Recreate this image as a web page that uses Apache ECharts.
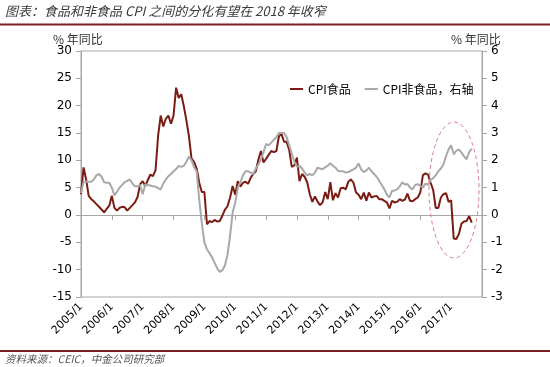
<!DOCTYPE html>
<html>
<head>
<meta charset="utf-8">
<script src="https://cdn.jsdelivr.net/npm/echarts@6/dist/echarts.min.js"></script>
<style>
html,body{margin:0;padding:0;background:#ffffff;}
#chart{width:550px;height:367px;}
</style>
</head>
<body>
<div id="chart"></div>
<script>
// ---- category labels (monthly, 2005/1 .. 2018/1) ----
const firstYear = 2005;
const lastYear = 2017;
const categories = [];
for (let y = firstYear; y <= lastYear; y++) {
  for (let m = 1; m <= 12; m++) categories.push(y + '/' + m);
}
categories.push('2018/1');
const lastLabelIndex = (lastYear - firstYear) * 12; // 2017/1

// ---- CPI food, % yoy (left axis), 2005/1 .. 2017/9 ----
const foodCPI = [
  3.8, 8.7, 6.5, 3.5, 2.9, 2.5, 2.0, 1.5, 1.0, 0.5, 1.1, 1.7,        // 2005
  3.5, 1.3, 0.8, 1.3, 1.5, 1.4, 0.8, 1.3, 1.8, 2.3, 3.3, 5.6,        // 2006
  6.2, 5.3, 6.4, 7.4, 7.1, 8.2, 14.5, 18.2, 16.2, 17.6, 18.2, 16.7,  // 2007
  18.2, 23.3, 21.4, 22.1, 19.9, 17.3, 14.4, 10.3, 9.7, 8.5, 5.9, 4.2,// 2008
  4.2, -1.7, -1.1, -1.3, -0.9, -1.2, -1.1, -0.1, 1.0, 1.6, 3.2, 5.3, // 2009
  3.7, 6.2, 5.2, 5.9, 6.1, 5.7, 6.8, 7.5, 8.0, 10.1, 11.7, 9.6,      // 2010
  10.3, 11.0, 11.7, 11.5, 11.7, 14.4, 14.8, 13.4, 13.4, 11.9, 8.8, 9.1, // 2011
  10.5, 6.2, 7.5, 7.0, 6.0, 3.8, 2.4, 3.4, 2.5, 1.8, 2.3, 4.2,       // 2012
  2.9, 6.0, 2.7, 4.0, 3.2, 4.9, 5.0, 4.7, 6.1, 6.5, 5.9, 4.1,        // 2013
  3.7, 2.9, 4.1, 2.6, 4.1, 3.2, 3.4, 3.5, 2.9, 2.9, 2.6, 2.3,        // 2014
  1.2, 2.6, 2.3, 2.4, 2.9, 2.6, 2.8, 3.9, 2.6, 2.5, 2.9, 3.2,        // 2015
  4.1, 7.3, 7.6, 7.4, 5.9, 4.6, 1.3, 1.3, 3.2, 3.8, 4.0, 2.4,        // 2016
  2.7, -4.3, -4.4, -3.5, -1.6, -1.2, -1.1, -0.2, -1.4                // 2017
];

// ---- CPI non-food, % yoy (right axis), 2005/1 .. 2017/9 ----
const nonFoodCPI = [
  0.8, 1.22, 1.22, 1.22, 1.22, 1.3, 1.45, 1.5, 1.4, 1.2, 1.18, 1.18,   // 2005
  1.0, 0.72, 0.85, 1.0, 1.1, 1.2, 1.25, 1.3, 1.15, 1.05, 1.05, 1.1,    // 2006
  0.76, 1.12, 1.1, 1.08, 1.05, 1.04, 0.98, 0.94, 1.15, 1.3, 1.42, 1.5, // 2007
  1.6, 1.68, 1.8, 1.76, 1.8, 1.95, 2.14, 2.0, 1.75, 1.6, 0.55, -0.3,   // 2008
  -1.0, -1.25, -1.4, -1.55, -1.75, -1.95, -2.08, -2.02, -1.85, -1.45, -0.75, 0.1, // 2009
  0.45, 1.0, 1.2, 1.45, 1.6, 1.6, 1.55, 1.5, 1.7, 1.85, 2.04, 2.3,     // 2010
  2.6, 2.55, 2.65, 2.75, 2.85, 3.0, 3.0, 3.0, 2.85, 2.55, 2.25, 1.95,  // 2011
  1.76, 1.8, 1.7, 1.55, 1.45, 1.5, 1.45, 1.55, 1.73, 1.7, 1.67, 1.75,  // 2012
  1.8, 1.89, 1.8, 1.73, 1.61, 1.6, 1.6, 1.55, 1.57, 1.62, 1.67, 1.73,  // 2013
  1.89, 1.67, 1.57, 1.62, 1.73, 1.6, 1.5, 1.4, 1.25, 1.1, 0.94, 0.75,  // 2014
  0.64, 0.88, 0.9, 0.94, 1.05, 1.2, 1.12, 1.13, 1.0, 0.94, 1.1, 1.13,  // 2015
  1.06, 1.0, 1.15, 1.1, 1.28, 1.35, 1.45, 1.6, 1.7, 1.85, 2.15, 2.4,   // 2016
  2.55, 2.22, 2.35, 2.4, 2.28, 2.15, 2.04, 2.3, 2.43                   // 2017
];

// ---- axis scales ----
const leftAxis = { min: -15, max: 30, interval: 5 };
const rightAxis = { min: -3, max: 6, interval: 1 };

// ---- texts ----
const titleText = '图表：食品和非食品 CPI 之间的分化有望在 2018 年收窄';
const sourceText = '资料来源：CEIC，中金公司研究部';
const unitText = '% 年同比';
const seriesNames = ['CPI食品', 'CPI非食品，右轴'];

const FONT_NUM = '"DejaVu Sans", Verdana, sans-serif';
const FONT_CJK = '"Noto Sans CJK SC", "Noto Sans", sans-serif';
const AXIS_GRAY = '#a6a6a6';
const RED = '#7a1c14';
const GRAY = '#a8a8a8';
const MAROON = '#7b1f22';

const yearMark = (idx) => idx % 12 === 0 && idx <= lastLabelIndex;

const chart = echarts.init(document.getElementById('chart'), null, { renderer: 'canvas' });

const option = {
  animation: false,
  backgroundColor: '#ffffff',
  grid: {
    left: 81, right: 68, top: 51, bottom: 70,
    show: true, borderColor: AXIS_GRAY, borderWidth: 1, backgroundColor: 'transparent'
  },
  legend: {
    data: seriesNames,
    left: 285, top: 78,
    icon: 'rect', itemWidth: 13, itemHeight: 2,
    itemGap: 14, itemTextGap: 1,
    selectedMode: false,
    textStyle: { fontFamily: FONT_CJK, fontSize: 12, color: '#000' }
  },
  xAxis: [
    {
      type: 'category', data: categories, boundaryGap: false, position: 'bottom',
      axisLine: { show: false, onZero: false },
      axisTick: { show: false },
      axisLabel: { interval: yearMark, rotate: 45, margin: 8, fontFamily: FONT_NUM, fontSize: 11, color: '#000' },
      splitLine: { show: false }
    },
    {
      type: 'category', data: categories, boundaryGap: false, position: 'bottom',
      axisLine: { show: true, onZero: true, onZeroAxisIndex: 0, lineStyle: { color: AXIS_GRAY, width: 1 } },
      axisTick: { show: true, interval: yearMark, length: 5, lineStyle: { color: AXIS_GRAY } },
      axisLabel: { show: false },
      splitLine: { show: false }
    }
  ],
  yAxis: [
    {
      type: 'value', position: 'left',
      min: leftAxis.min, max: leftAxis.max, interval: leftAxis.interval,
      axisLine: { show: true, lineStyle: { color: AXIS_GRAY } },
      axisTick: { show: true, length: 5, lineStyle: { color: AXIS_GRAY } },
      axisLabel: { margin: 9, fontFamily: FONT_NUM, fontSize: 12, color: '#000' },
      splitLine: { show: false }
    },
    {
      type: 'value', position: 'right',
      min: rightAxis.min, max: rightAxis.max, interval: rightAxis.interval,
      axisLine: { show: true, lineStyle: { color: AXIS_GRAY } },
      axisTick: { show: true, length: 5, lineStyle: { color: AXIS_GRAY } },
      axisLabel: { margin: 9, fontFamily: FONT_NUM, fontSize: 12, color: '#000' },
      splitLine: { show: false }
    }
  ],
  series: [
    {
      name: seriesNames[0], type: 'line', xAxisIndex: 0, yAxisIndex: 0,
      data: foodCPI, symbol: 'none', showSymbol: false,
      lineStyle: { color: RED, width: 2 }, itemStyle: { color: RED }, z: 3
    },
    {
      name: seriesNames[1], type: 'line', xAxisIndex: 0, yAxisIndex: 1,
      data: nonFoodCPI, symbol: 'none', showSymbol: false,
      lineStyle: { color: GRAY, width: 2 }, itemStyle: { color: GRAY }, z: 4
    }
  ],
  graphic: [
    { type: 'text', left: 5, top: 5, style: { text: titleText, font: 'italic 13px ' + FONT_CJK, fill: '#3a3a3a' } },
    { type: 'line', shape: { x1: 0, y1: 24.5, x2: 550, y2: 24.5 }, style: { stroke: MAROON, lineWidth: 2 } },
    { type: 'text', left: 53, top: 33, style: { text: unitText, font: '12px ' + FONT_CJK, fill: '#333' } },
    { type: 'text', left: 451, top: 33, style: { text: unitText, font: '12px ' + FONT_CJK, fill: '#333' } },
    { type: 'line', shape: { x1: 0, y1: 351, x2: 550, y2: 351 }, style: { stroke: MAROON, lineWidth: 2 } },
    { type: 'text', left: 5, top: 354, style: { text: sourceText, font: 'italic 10.5px ' + FONT_CJK, fill: '#555' } },
    { type: 'ellipse', shape: { cx: 454, cy: 190, rx: 25, ry: 68 }, style: { fill: 'none', stroke: '#d9808f', lineWidth: 1, lineDash: [4, 3] }, z: 10 }
  ]
};

chart.setOption(option);
</script>
</body>
</html>
